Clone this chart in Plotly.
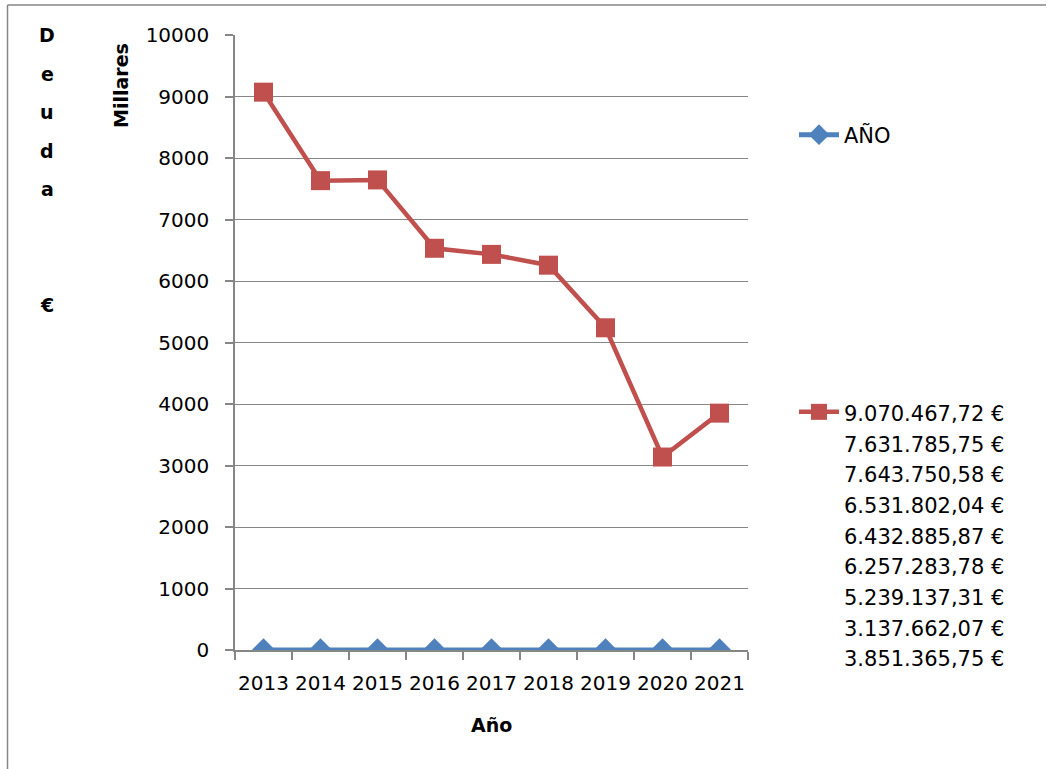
import plotly.graph_objects as go

# ---- data ----
years = ["2013", "2014", "2015", "2016", "2017", "2018", "2019", "2020", "2021"]
anio_values = [2013, 2014, 2015, 2016, 2017, 2018, 2019, 2020, 2021]
deuda_values = [9070467.72, 7631785.75, 7643750.58, 6531802.04, 6432885.87,
                6257283.78, 5239137.31, 3137662.07, 3851365.75]
y_ticks = [0, 1000, 2000, 3000, 4000, 5000, 6000, 7000, 8000, 9000, 10000]
side_title_letters = ["D", "e", "u", "d", "a", "", "", "€"]


def fmt_eur(v):
    s = f"{v:,.2f}"
    s = s.replace(",", "X").replace(".", ",").replace("X", ".")
    return s + " €"


FONT = "DejaVu Sans"
GRID = "#868686"
RED = "#C0504D"
BLUE = "#4F81BD"

W, H = 1047, 769
L, R, T, B = 235, 748, 35, 650


def px(x):
    return (x - L) / (R - L)


def py(y):
    return (B - y) / (B - T)


red_name = "<span style='font-size:21px'>" + "<br>".join(fmt_eur(v) for v in deuda_values) + "</span>"

fig = go.Figure()
fig.add_trace(go.Scatter(
    x=years, y=[v / 1000 for v in anio_values], name="AÑO",
    mode="lines+markers",
    line=dict(color=BLUE, width=5),
    marker=dict(symbol="diamond", size=18, color=BLUE),
    legend="legend",
))
fig.add_trace(go.Scatter(
    x=years, y=[v / 1000 for v in deuda_values], name=red_name,
    mode="lines+markers",
    line=dict(color=RED, width=4.5),
    marker=dict(symbol="square", size=19, color=RED),
    legend="legend2",
))

annotations = []
for i, ch in enumerate(side_title_letters):
    if not ch:
        continue
    annotations.append(dict(
        text=f"<b>{ch}</b>", x=px(47), y=py(35 + i * 38.6),
        xref="paper", yref="paper", showarrow=False,
        xanchor="center", yanchor="middle",
        font=dict(family=FONT, size=19, color="black"),
    ))
annotations.append(dict(
    text="<b>Millares</b>", x=px(121), y=py(86), xref="paper", yref="paper",
    showarrow=False, textangle=-90, xanchor="center", yanchor="middle",
    font=dict(family=FONT, size=19, color="black"),
))
annotations.append(dict(
    text="<b>Año</b>", x=px(491), y=py(725), xref="paper", yref="paper",
    showarrow=False, xanchor="center", yanchor="middle",
    font=dict(family=FONT, size=19, color="black"),
))

shapes = [
    dict(type="line", xref="paper", yref="paper",
         x0=px(7.5), x1=px(7.5), y0=py(5), y1=py(775),
         line=dict(color=GRID, width=1.5)),
    dict(type="line", xref="paper", yref="paper",
         x0=px(7.5), x1=px(1046), y0=py(5), y1=py(5),
         line=dict(color=GRID, width=1.5)),
]

fig.update_layout(
    width=W, height=H,
    margin=dict(l=L, r=W - R, t=T, b=H - B, autoexpand=False),
    paper_bgcolor="white", plot_bgcolor="white",
    font=dict(family=FONT, size=20, color="black"),
    showlegend=True,
    legend=dict(x=px(794), y=py(135), xanchor="left", yanchor="middle",
                font=dict(family=FONT, size=21, color="black"),
                bgcolor="rgba(0,0,0,0)", itemwidth=40),
    legend2=dict(x=px(794), y=py(390), xanchor="left", yanchor="top",
                 valign="top",
                 font=dict(family=FONT, size=23.6, color="black"),
                 bgcolor="rgba(0,0,0,0)", itemwidth=40),
    annotations=annotations,
    shapes=shapes,
)
fig.update_xaxes(
    type="category", range=[-0.5, len(years) - 0.5],
    showgrid=False, showline=True, linecolor=GRID, linewidth=1.5,
    ticks="outside", tickson="boundaries", ticklen=8, tickcolor=GRID, tickwidth=1.5,
    tickangle=0, automargin=False,
    tickfont=dict(family=FONT, size=20, color="black"), ticklabelstandoff=14,
)
fig.update_yaxes(
    range=[0, 10000], tickvals=y_ticks, ticktext=[str(v) for v in y_ticks],
    showgrid=True, gridcolor=GRID, gridwidth=1.2, automargin=False,
    showline=True, linecolor=GRID, linewidth=1.5, zeroline=False,
    ticks="outside", ticklen=8, tickcolor=GRID, tickwidth=1.5,
    tickfont=dict(family=FONT, size=20, color="black"), ticklabelstandoff=12,
)

fig.write_html("out.html", config={"displayModeBar": False},
               post_script="document.body.style.margin='0';")
